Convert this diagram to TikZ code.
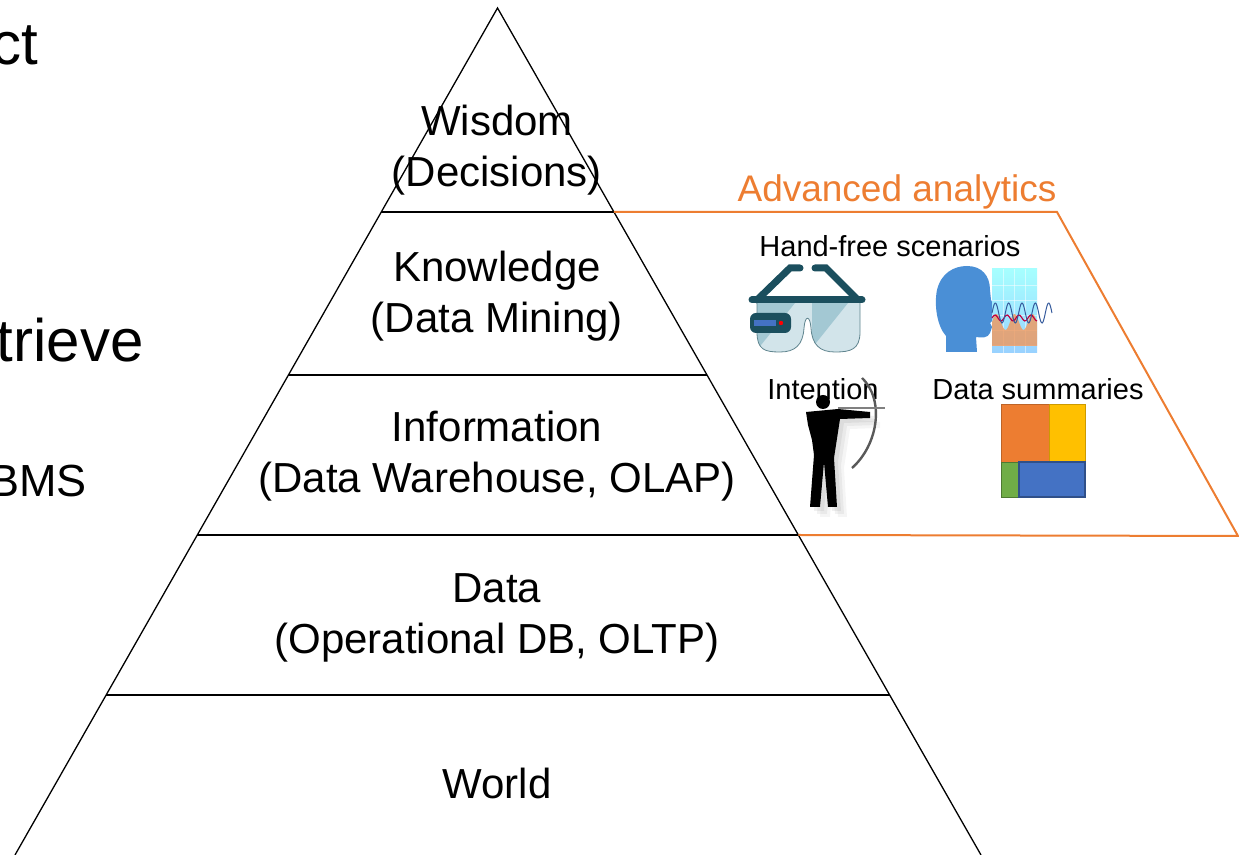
\documentclass[tikz,border=0pt]{standalone}
\usepackage{fontspec}
\setmainfont{Liberation Sans}
\usepackage{tikz}
\usetikzlibrary{calc}
\usepackage{xcolor}
\definecolor{accent}{HTML}{ED7D31}
\definecolor{tmorange}{HTML}{ED7D31}
\definecolor{tmyellow}{HTML}{FFC000}
\definecolor{tmgreen}{HTML}{70AD47}
\definecolor{tmblue}{HTML}{4472C4}
\definecolor{frame}{HTML}{1B4F5E}
\definecolor{lens}{HTML}{D2E4EA}
\definecolor{lensdark}{HTML}{A3C8D3}
\definecolor{headblue}{HTML}{4A8FD6}

\begin{document}
\begin{tikzpicture}[x=0.5pt, y=-0.5pt,
    layer/.style={align=center, font=\fontsize{21}{25.5}\selectfont},
    usecase/.style={font=\fontsize{14.5}{17}\selectfont, inner sep=0pt},
    side/.style={font=\fontsize{30}{36}\selectfont, inner sep=0pt, anchor=base east}]
    \useasboundingbox (0,0) rectangle (1239,855);
    \clip (0,0) rectangle (1239,855);

    % text of the slide column on the left
    \node[side] (extract) at (39,65) {ct};
    \node[side] (retrieve) at (144,362) {trieve};
    \node[side, font=\fontsize{22.5}{27}\selectfont] (dbms) at (87,497) {BMS};

    % pyramid and its levels
    \coordinate (apex) at (497.5,8);
    \coordinate (base-w) at (15,855);
    \coordinate (base-e) at (981,855);
    \draw[line width=0.65pt] (base-w) -- (apex) -- (base-e);
    \foreach \y/\n in {212/1,375/2,535/3,695/4}
        \draw[line width=0.65pt] ($(apex)!{(\y-8)/847}!(base-w)$) coordinate (lvl\n-w)
            -- ($(apex)!{(\y-8)/847}!(base-e)$) coordinate (lvl\n-e);

    \node[layer] (wisdom) at (497,150) {Wisdom\\(Decisions)};
    \node[layer] (knowledge) at (497,296) {Knowledge\\(Data Mining)};
    \node[layer] (information) at (497,456) {Information\\(Data Warehouse, OLAP)};
    \node[layer] (data) at (497,618) {Data\\(Operational DB, OLTP)};
    \node[layer] (world) at (497,783) {World};

    % advanced analytics box
    \draw[accent, line width=1pt] (lvl1-e) -- (1057,212) coordinate (box-ne)
        -- (1238,536) coordinate (box-se) -- (lvl3-e);
    \node[text=accent, font=\fontsize{18.5}{22}\selectfont] (analytics) at (897,192) {Advanced analytics};

    \node[usecase] (handfree) at (890,246) {Hand-free scenarios};
    \node[usecase] (intention) at (823,389) {Intention};
    \node[usecase] (summaries) at (1038,389) {Data summaries};

    % smart glasses
    \draw[frame, line width=3.5pt, line cap=round] (757,300) -- (790,268) -- (800,268);
    \draw[frame, line width=3.5pt, line cap=round] (858,300) -- (826,268) -- (815,268);
    \begin{scope}
        \path[clip] (757,303) -- (860,303) -- (860,332) .. controls (860,350) and (850,352) .. (835,352)
            .. controls (820,352) and (812,345) .. (811,328) .. controls (810,315) and (805,315) .. (804,328)
            .. controls (803,345) and (795,352) .. (780,352) .. controls (765,352) and (757,350) .. (757,332) -- cycle;
        \fill[lens] (750,300) rectangle (865,355);
        \fill[lensdark] (757,303) -- (795,303) -- (757,350) -- cycle;
        \fill[lensdark] (812,303) -- (848,303) -- (812,348) -- cycle;
    \end{scope}
    \draw[frame!70, line width=0.4pt] (757,303) -- (757,332) .. controls (757,350) and (765,352) .. (780,352)
        .. controls (795,352) and (803,345) .. (804,328) .. controls (805,315) and (810,315) .. (811,328)
        .. controls (812,345) and (820,352) .. (835,352) .. controls (850,352) and (860,350) .. (860,332) -- (860,303);
    \draw[frame, line width=3.5pt, line cap=round] (752,300) -- (862,300);
    \fill[frame, rounded corners=3pt] (750,313) rectangle (791,333);
    \fill[tmblue] (754,320) rectangle (776,326);
    \fill[red] (781,323) circle (2.2);

    % head speaking into a spectrogram
    \fill[headblue] (946,352) -- (946,336) .. controls (937,326) and (934,305) .. (937,290)
        .. controls (941,273) and (954,266) .. (967,266) .. controls (982,266) and (990,276) .. (990,290)
        -- (991,300) -- (997,311) -- (993,314) -- (993,320) -- (990,323) -- (992,327) -- (990,333)
        .. controls (988,338) and (982,338) .. (976,337) -- (977,352) -- cycle;
    \shade[top color=cyan!35!white, bottom color=cyan!55!blue!40] (992,269) rectangle (1037,353);
    \foreach \gx in {1003,1014,1025}
        \draw[white, opacity=0.5, line width=0.3pt] (\gx,269) -- (\gx,353);
    \foreach \gy in {285,300,315,330,345}
        \draw[white, opacity=0.5, line width=0.3pt] (992,\gy) -- (1037,\gy);
    \fill[tmorange!80!white, opacity=0.8] plot[domain=992:1037, samples=40] (\x,{322-8*sin(20*(\x-992))})
        -- (1037,346) -- (992,346) -- cycle;
    \draw[purple, line width=0.6pt] plot[domain=992:1037, samples=30] (\x,{318-3*sin(30*(\x-992))});
    \draw[tmblue!80!black, line width=0.5pt] plot[domain=992:1052, samples=80] (\x,{313-10*sin(27*(\x-992))});

    % archer with a soft shadow
    \foreach \s/\o in {4/0.12,7/0.1,10/0.08}
        \fill[gray, opacity=\o, shift={(\s,\s)}] (806,412) -- (838,409) -- (870,412) -- (870,418)
            -- (840,419) -- (836,445) -- (834,458) -- (837,507) -- (828,507) -- (824,462)
            -- (820,507) -- (810,507) -- (814,455) -- (812,440) -- (808,425) -- cycle;
    \fill[black] (823,402) circle (7);
    \fill[black] (806,412) -- (838,409) -- (870,412) -- (870,418) -- (840,419) -- (836,445)
        -- (834,458) -- (837,507) -- (828,507) -- (824,462) -- (820,507) -- (810,507) -- (814,455)
        -- (812,440) -- (808,425) -- cycle;
    \draw[gray!70!black, line width=1.2pt] (862,378) .. controls (885,400) and (878,445) .. (852,468);
    \draw[gray, line width=0.6pt] (838,408) -- (885,408);

    % treemap of data summaries
    \filldraw[fill=tmorange, draw=tmorange!80!black] (1001,404) rectangle (1049,462);
    \filldraw[fill=tmyellow, draw=tmyellow!80!black] (1049,404) rectangle (1085,462);
    \filldraw[fill=tmgreen, draw=tmgreen!70!black] (1001,462) rectangle (1019,497);
    \filldraw[fill=tmblue, draw=tmblue!70!black, line width=0.8pt] (1019,462) rectangle (1085,497);
\end{tikzpicture}
\end{document}
